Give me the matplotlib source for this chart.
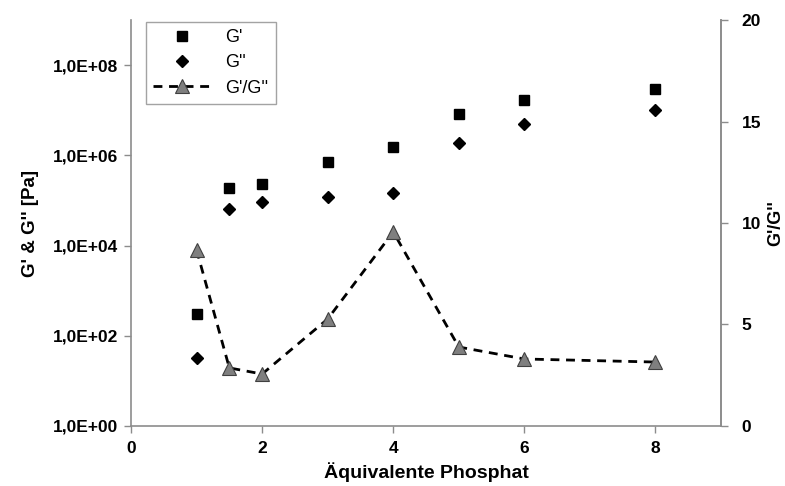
import math
import matplotlib
matplotlib.use("Agg")
import matplotlib.pyplot as plt
from matplotlib.ticker import FixedLocator, FuncFormatter

plt.rcParams['font.family'] = ['Liberation Sans', 'DejaVu Sans']

# Phosphate equivalents and measured moduli
equivalents = [1, 1.5, 2, 3, 4, 5, 6, 8]
g_storage = [300, 1.9e5, 2.3e5, 7.0e5, 1.5e6, 8.3e6, 1.7e7, 2.9e7]
g_loss = [32, 6.3e4, 9.1e4, 1.2e5, 1.5e5, 1.9e6, 5.0e6, 1.0e7]
g_ratio = [8.67, 2.86, 2.56, 5.27, 9.56, 3.89, 3.30, 3.15]

left_ticks = [1, 1e2, 1e4, 1e6, 1e8]
right_ticks = [0, 5, 10, 15, 20]
x_ticks = [0, 2, 4, 6, 8]

spine_color = '#8c8c8c'

fig = plt.figure(figsize=(7.85, 4.86), dpi=100)
ax = fig.add_axes([0.1669, 0.1235, 0.9185 - 0.1669, 0.9588 - 0.1235])
ax2 = ax.twinx()

h1, = ax.plot(equivalents, g_storage, linestyle='none', marker='s',
              markersize=6.5, color='black', label="G'")
h2, = ax.plot(equivalents, g_loss, linestyle='none', marker='D',
              markersize=6, color='black', label="G''")
h3, = ax2.plot(equivalents, g_ratio, linestyle=(0, (3.2, 2.4)), linewidth=2,
               color='black', marker='^', markersize=10,
               markerfacecolor='#7f7f7f', markeredgecolor='#404040',
               markeredgewidth=0.8, label="G'/G''")

ax.set_yscale('log')
ax.set_ylim(1, 1e9)
ax.set_xlim(0, 9)
ax2.set_ylim(0, 20)

ax.yaxis.set_major_locator(FixedLocator(left_ticks))
ax.yaxis.set_minor_locator(FixedLocator([]))


def sci_comma(v, pos):
    exp = int(round(math.log10(v)))
    return "1,0E+%02d" % exp


ax.yaxis.set_major_formatter(FuncFormatter(sci_comma))
ax.set_xticks(x_ticks)
ax2.set_yticks(right_ticks)

for a in (ax, ax2):
    a.spines['top'].set_visible(False)
    for s in a.spines.values():
        s.set_color(spine_color)
        s.set_linewidth(1.2)
ax2.spines['left'].set_visible(False)
ax2.spines['bottom'].set_visible(False)

ax.tick_params(axis='y', which='major', direction='out', length=5,
               width=1, color=spine_color, labelsize=12.5, pad=4)
ax.tick_params(axis='x', which='major', direction='out', length=5,
               width=1, color=spine_color, labelsize=12.5, pad=6)
ax2.tick_params(axis='y', direction='out', length=5, width=1,
                color=spine_color, labelsize=12.5, pad=10)
for lbl in ax.get_xticklabels() + ax.get_yticklabels() + ax2.get_yticklabels():
    lbl.set_fontweight('bold')

ax.set_xlabel('Äquivalente Phosphat', fontsize=14, fontweight='bold', labelpad=4)
ax.set_ylabel("G' & G'' [Pa]", fontsize=13.5, fontweight='bold', labelpad=10)
ax2.set_ylabel("G'/G''", fontsize=13, fontweight='bold', labelpad=4)

leg = ax.legend(handles=[h1, h2, h3], loc='upper left',
                bbox_to_anchor=(0.025, 0.995), frameon=True, fancybox=False,
                fontsize=13, handlelength=3.2, handletextpad=0.8,
                borderpad=0.4, labelspacing=0.45, borderaxespad=0)
leg.get_frame().set_edgecolor('#8c8c8c')
leg.get_frame().set_linewidth(1.0)

fig.savefig('out.png', dpi=100)
